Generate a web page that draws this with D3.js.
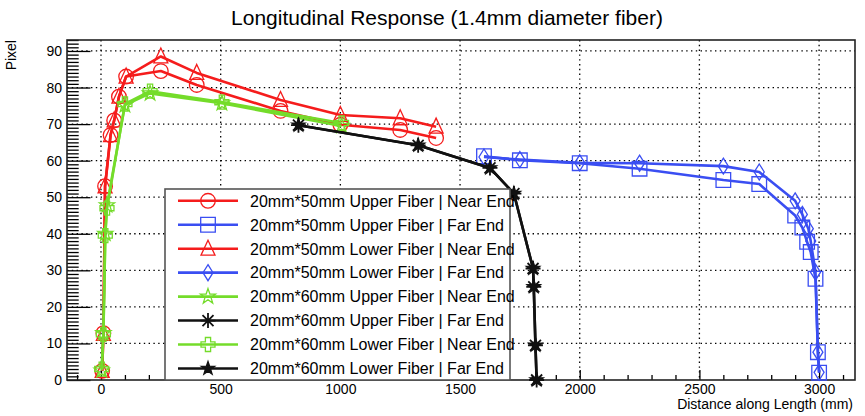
<!DOCTYPE html>
<html>
<head>
<meta charset="utf-8">
<script src="https://cdn.jsdelivr.net/npm/d3@7"></script>
<style>
  body { margin: 0; background: #fff; }
  text { font-family: "Liberation Sans", Arial, sans-serif; fill: #000; }
</style>
</head>
<body>
<div id="app"></div>
<script>
// data
const seriesNames = [
  '20mm*50mm Upper Fiber | Near End',
  '20mm*50mm Upper Fiber | Far End',
  '20mm*50mm Lower Fiber | Near End',
  '20mm*50mm Lower Fiber | Far End',
  '20mm*60mm Upper Fiber | Near End',
  '20mm*60mm Upper Fiber | Far End',
  '20mm*60mm Lower Fiber | Near End',
  '20mm*60mm Lower Fiber | Far End'
]

const upper50NearX = [5, 10, 17, 40, 55, 75, 105, 250, 400, 750, 1000, 1250, 1400]
const upper50NearY = [2.5, 12.8, 53, 67, 71, 77.5, 83, 84.5, 80.7, 73.6, 69.8, 68.4, 66.2]

const upper50FarX = [1600, 1750, 2000, 2250, 2600, 2750, 2900, 2930, 2950, 2965, 2985, 2995, 3000]
const upper50FarY = [61.2, 60.1, 59.3, 57.8, 54.7, 53.6, 45, 41.7, 37.8, 35, 27.7, 7.6, 2]

const lower50NearX = [5, 10, 17, 40, 55, 75, 105, 250, 400, 750, 1000, 1250, 1400]
const lower50NearY = [2.5, 12.6, 53, 67, 71, 77.5, 83, 88.5, 84, 76.6, 72.5, 71.6, 69.3]

const lower50FarX = [1600, 1750, 2000, 2250, 2600, 2750, 2900, 2930, 2955, 2965, 2985, 2995, 3000]
const lower50FarY = [61, 60.3, 59.4, 59.3, 58.5, 56.9, 49, 45.3, 41.4, 38, 29.5, 7.6, 2.1]

const upper60NearX = [3, 10, 18, 25, 100, 205, 505, 1005]
const upper60NearY = [2.6, 12.8, 40, 47.8, 75.2, 78.4, 75.7, 69.5]

const upper60FarX = [825, 1325, 1625, 1725, 1805, 1808, 1815, 1820]
const upper60FarY = [69.7, 64.2, 58, 51, 30.5, 25.5, 9.5, 0]

const lower60NearX = [3, 10, 18, 25, 100, 205, 505, 1005]
const lower60NearY = [3, 12.5, 39.5, 47, 75.5, 79, 76, 70.3]

const lower60FarX = [825, 1325, 1625, 1725, 1805, 1808, 1815, 1820]
const lower60FarY = [69.7, 64.2, 58, 51, 30.5, 25.5, 9.5, 0]

const xTicks = [0, 500, 1000, 1500, 2000, 2500, 3000]
const yTicks = [0, 10, 20, 30, 40, 50, 60, 70, 80, 90]

const red = '#f51c1c', blue = '#3a4ef2', green = '#74dc2a', black = '#111'

const series = [
  {x: upper50NearX, y: upper50NearY, color: red, marker: 'circle'},
  {x: upper50FarX, y: upper50FarY, color: blue, marker: 'square'},
  {x: lower50NearX, y: lower50NearY, color: red, marker: 'triangle'},
  {x: lower50FarX, y: lower50FarY, color: blue, marker: 'diamond'},
  {x: upper60NearX, y: upper60NearY, color: green, marker: 'openstar'},
  {x: upper60FarX, y: upper60FarY, color: black, marker: 'asterisk'},
  {x: lower60NearX, y: lower60NearY, color: green, marker: 'opencross'},
  {x: lower60FarX, y: lower60FarY, color: black, marker: 'star'}
]

const W = 865, H = 416
const frame = {left: 67, top: 40, right: 855, bottom: 380}

const svg = d3.select('#app').append('svg')
  .attr('width', W).attr('height', H)

const xScale = d3.scaleLinear().domain([-142, 3150]).range([frame.left, frame.right])
const yScale = d3.scaleLinear().domain([0, 93]).range([frame.bottom, frame.top])

// grid
const grid = svg.append('g')
  .attr('stroke', '#000').attr('stroke-width', 1.3).attr('stroke-dasharray', '1.4 3.4')
grid.selectAll('.gx').data(xTicks).join('line')
  .attr('x1', d => xScale(d)).attr('x2', d => xScale(d))
  .attr('y1', frame.top).attr('y2', frame.bottom)
grid.selectAll('.gy').data(yTicks.filter(d => d > 0)).join('line')
  .attr('x1', frame.left).attr('x2', frame.right)
  .attr('y1', d => yScale(d)).attr('y2', d => yScale(d))

// axes (ROOT style: ticks inside the frame)
const xMinor = d3.range(-100, 3151, 100).filter(d => d % 500 !== 0)
const xAxis = svg.append('g').attr('transform', `translate(0, ${frame.bottom})`)
xAxis.call(d3.axisBottom(xScale).tickValues(xTicks).tickSize(-10).tickPadding(4).tickFormat(d3.format('d')))
xAxis.append('g').call(d3.axisBottom(xScale).tickValues(xMinor).tickSize(-5).tickFormat(''))
xAxis.selectAll('.domain').remove()
xAxis.selectAll('line').attr('stroke', '#000').attr('stroke-width', 1.3)
xAxis.selectAll('text').style('font-size', '14px').style('font-family', '"Liberation Sans", Arial, sans-serif')

const yMinor = d3.range(0, 93.1, 1).filter(d => d % 10 !== 0)
const yAxis = svg.append('g').attr('transform', `translate(${frame.left}, 0)`)
yAxis.call(d3.axisLeft(yScale).tickValues(yTicks).tickSize(-23.5).tickPadding(5).tickFormat(d3.format('d')))
yAxis.append('g').call(d3.axisLeft(yScale).tickValues(yMinor).tickSize(-11.7).tickFormat(''))
yAxis.selectAll('.domain').remove()
yAxis.selectAll('line').attr('stroke', '#000').attr('stroke-width', 1.3)
yAxis.selectAll('text').style('font-size', '14px').style('font-family', '"Liberation Sans", Arial, sans-serif')

// frame
svg.append('rect')
  .attr('x', frame.left).attr('y', frame.top)
  .attr('width', frame.right - frame.left).attr('height', frame.bottom - frame.top)
  .attr('fill', 'none').attr('stroke', '#222').attr('stroke-width', 1.6)

// markers
function markerPath(type) {
  const p = d3.path()
  if (type === 'circle') {
    p.moveTo(7.3, 0); p.arc(0, 0, 7.3, 0, 2 * Math.PI)
  } else if (type === 'square') {
    p.rect(-7.3, -7.3, 14.6, 14.6)
  } else if (type === 'triangle') {
    p.moveTo(0, -8.5); p.lineTo(7, 6.5); p.lineTo(-7, 6.5); p.closePath()
  } else if (type === 'diamond') {
    p.moveTo(0, -8); p.lineTo(5, 0); p.lineTo(0, 8); p.lineTo(-5, 0); p.closePath()
  } else if (type === 'openstar' || type === 'star') {
    const ro = type === 'star' ? 7 : 8, ri = ro * 0.4
    for (let i = 0; i < 10; i++) {
      const r = i % 2 ? ri : ro
      const a = -Math.PI / 2 + i * Math.PI / 5
      i ? p.lineTo(r * Math.cos(a), r * Math.sin(a)) : p.moveTo(r * Math.cos(a), r * Math.sin(a))
    }
    p.closePath()
  } else if (type === 'opencross') {
    const a = 7, b = 2.6
    p.moveTo(-b, -a); p.lineTo(b, -a); p.lineTo(b, -b); p.lineTo(a, -b); p.lineTo(a, b)
    p.lineTo(b, b); p.lineTo(b, a); p.lineTo(-b, a); p.lineTo(-b, b); p.lineTo(-a, b)
    p.lineTo(-a, -b); p.lineTo(-b, -b); p.closePath()
  } else if (type === 'asterisk') {
    const a = 7.5, c = 5.5
    p.moveTo(-a, 0); p.lineTo(a, 0); p.moveTo(0, -a); p.lineTo(0, a)
    p.moveTo(-c, -c); p.lineTo(c, c); p.moveTo(-c, c); p.lineTo(c, -c)
  }
  return p.toString()
}

function drawMarker(g, type, color) {
  const filled = type === 'star'
  g.append('path')
    .attr('d', markerPath(type))
    .attr('fill', filled ? color : 'none')
    .attr('stroke', color)
    .attr('stroke-width', type === 'asterisk' ? 1.8 : 1.3)
}

const line = d3.line().x(d => xScale(d[0])).y(d => yScale(d[1]))

series.forEach(s => {
  const pts = s.x.map((x, i) => [x, s.y[i]])
  const g = svg.append('g')
  g.append('path').datum(pts)
    .attr('d', line)
    .attr('fill', 'none').attr('stroke', s.color).attr('stroke-width', 2.6)
    .attr('stroke-linejoin', 'round')
  g.selectAll('.m').data(pts).join('g')
    .attr('transform', d => `translate(${xScale(d[0])}, ${yScale(d[1])})`)
    .each(function() { drawMarker(d3.select(this), s.marker, s.color) })
})

// legend
const legend = svg.append('g')
legend.append('rect')
  .attr('x', 165).attr('y', 189).attr('width', 345).attr('height', 191)
  .attr('fill', '#fff').attr('stroke', '#555').attr('stroke-width', 1.6)
series.forEach((s, i) => {
  const y = 200.8 + i * 23.95
  const row = legend.append('g')
  row.append('line').attr('x1', 178).attr('x2', 238).attr('y1', y).attr('y2', y)
    .attr('stroke', s.color).attr('stroke-width', 2.6)
  drawMarker(row.append('g').attr('transform', `translate(208, ${y})`), s.marker, s.color)
  row.append('text').attr('x', 250).attr('y', y + 5.8)
    .style('font-size', '16px').text(seriesNames[i])
})

// titles
svg.append('text').attr('x', 447).attr('y', 25).attr('text-anchor', 'middle')
  .style('font-size', '21px').text('Longitudinal Response (1.4mm diameter fiber)')
svg.append('text').attr('x', 853).attr('y', 409).attr('text-anchor', 'end')
  .style('font-size', '14px').text('Distance along Length (mm)')
svg.append('text').attr('transform', 'translate(16, 40) rotate(-90)').attr('text-anchor', 'end')
  .style('font-size', '14px').text('Pixel')
</script>
</body>
</html>
